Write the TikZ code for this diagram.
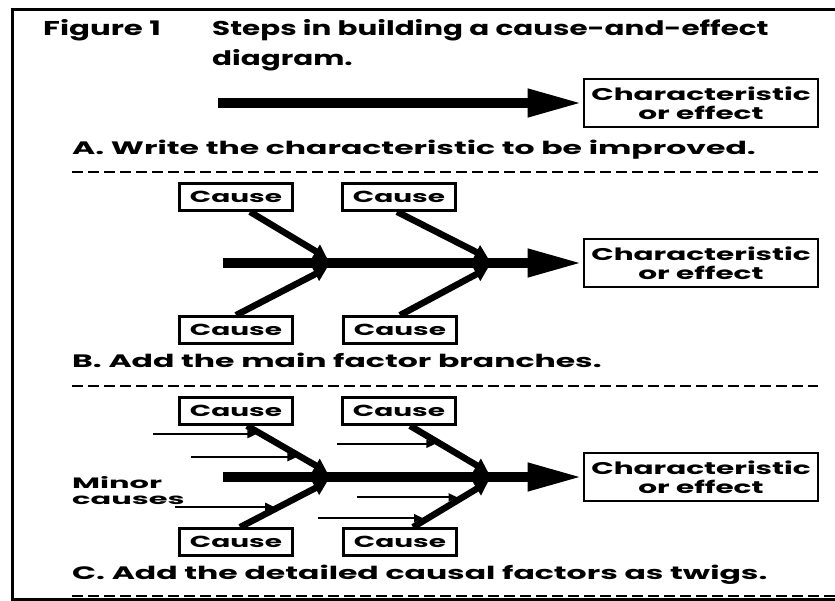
\documentclass[tikz,border=0pt]{standalone}
\usepackage{fontspec}
\usepackage{graphicx}
\setmainfont{Poppins}[FakeStretch=1.4]
\usetikzlibrary{arrows.meta,calc}

% horizontally widened lettering
\newcommand{\widetext}[2]{\scalebox{#1}[1]{#2}}

\tikzset{
  frameline/.style={line width=3pt},
  divider/.style={line width=2.6pt, dash pattern=on 11pt off 5pt},
  causebox/.style={draw, line width=2.6pt, minimum width=113pt, minimum height=27pt,
    inner sep=0pt, font=\bfseries\fontsize{16}{16}\selectfont},
  effectbox/.style={draw, line width=2.6pt, minimum width=234pt, minimum height=48pt,
    inner sep=0pt, align=center, font=\bfseries\fontsize{17}{19}\selectfont},
  spine/.style={line width=10pt, -{Triangle[length=55pt,width=26pt]}},
  branch/.style={line width=6.5pt, -{Triangle[length=13pt,width=15pt]}},
  twig/.style={line width=1.8pt, shorten >=5pt, -{Triangle[length=9pt,width=8pt]}},
  steplabel/.style={anchor=west, inner sep=0pt, font=\bfseries\fontsize{18}{18}\selectfont},
  titletext/.style={anchor=west, inner sep=0pt, font=\bfseries\fontsize{20}{20}\selectfont},
  minortext/.style={anchor=west, inner sep=0pt, align=left, font=\bfseries\fontsize{15}{16}\selectfont}
}

\begin{document}
\begin{tikzpicture}[x=1pt,y=-1pt]
  \useasboundingbox (0,0) rectangle (835,601);

  % outer frame
  \draw[frameline] (835,10) -- (12,10) -- (12,599) -- (835,599);
  \draw[divider] (72,596) -- (835,596);

  % heading
  \node[titletext] (fig) at (43,30) {\widetext{1.1}{Figure 1}};
  \node[titletext] (head1) at (212,30) {\widetext{1.05}{Steps in building a cause-and-effect}};
  \node[titletext] (head2) at (212,60) {\widetext{1.05}{diagram.}};

  % ---------- step A ----------
  \node[effectbox] (effA) at (701,103) {\widetext{1.24}{Characteristic}\\\widetext{1.24}{or effect}};
  \coordinate (tailA) at (218,103);
  \draw[spine] (tailA) -- (effA.west);
  \node[steplabel] (labA) at (72,150) {\widetext{1.25}{A. Write the characteristic to be improved.}};
  \coordinate (dA1) at (72,172);
  \coordinate (dA2) at (818,172);
  \draw[divider] (dA1) -- (dA2);

  % ---------- step B ----------
  \node[effectbox] (effB) at (701,263) {\widetext{1.24}{Characteristic}\\\widetext{1.24}{or effect}};
  \coordinate (tailB) at (223,263);
  \draw[spine] (tailB) -- (effB.west);
  \node[causebox] (cBt1) at (236,197) {\widetext{1.25}{Cause}};
  \node[causebox] (cBt2) at (399,197) {\widetext{1.25}{Cause}};
  \node[causebox] (cBb1) at (236,330) {\widetext{1.25}{Cause}};
  \node[causebox] (cBb2) at (400,330) {\widetext{1.25}{Cause}};
  \coordinate (jB1t) at (327,258);
  \coordinate (jB2t) at (488,258);
  \coordinate (jB1b) at (327,268);
  \coordinate (jB2b) at (488,268);
  \draw[branch] ([xshift=14pt]cBt1.south) -- (jB1t);
  \draw[branch] ([xshift=-2pt]cBt2.south) -- (jB2t);
  \draw[branch] (cBb1.north) -- (jB1b);
  \draw[branch] (cBb2.north) -- (jB2b);
  \node[steplabel] (labB) at (72,360) {\widetext{1.25}{B. Add the main factor branches.}};
  \coordinate (dB1) at (72,386);
  \coordinate (dB2) at (818,386);
  \draw[divider] (dB1) -- (dB2);

  % ---------- step C ----------
  \node[effectbox] (effC) at (701,477) {\widetext{1.24}{Characteristic}\\\widetext{1.24}{or effect}};
  \coordinate (tailC) at (223,477);
  \draw[spine] (tailC) -- (effC.west);
  \node[causebox] (cCt1) at (236,411) {\widetext{1.25}{Cause}};
  \node[causebox] (cCt2) at (399,411) {\widetext{1.25}{Cause}};
  \node[causebox] (cCb1) at (236,542) {\widetext{1.25}{Cause}};
  \node[causebox] (cCb2) at (400,542) {\widetext{1.25}{Cause}};
  \coordinate (sC1t) at ([xshift=11pt]cCt1.south);
  \coordinate (sC2t) at ([xshift=11pt]cCt2.south);
  \coordinate (sC1b) at ([xshift=4pt]cCb1.north);
  \coordinate (sC2b) at ([xshift=13pt]cCb2.north);
  \coordinate (jC1t) at (327,472);
  \coordinate (jC2t) at (488,472);
  \coordinate (jC1b) at (327,482);
  \coordinate (jC2b) at (488,482);
  \draw[branch] (sC1t) -- (jC1t);
  \draw[branch] (sC2t) -- (jC2t);
  \draw[branch] (sC1b) -- (jC1b);
  \draw[branch] (sC2b) -- (jC2b);

  % twigs: minor causes feeding each main branch
  \coordinate (tw1) at ($(sC1t)!0.18!(jC1t)$);
  \coordinate (tw2) at ($(sC1t)!0.68!(jC1t)$);
  \coordinate (tw3) at ($(sC2t)!0.39!(jC2t)$);
  \coordinate (tw4) at ($(sC1b)!0.45!(jC1b)$);
  \coordinate (tw5) at ($(sC2b)!0.66!(jC2b)$);
  \coordinate (tw6) at ($(sC2b)!0.20!(jC2b)$);
  \draw[twig] ($(tw1)+(-108,0)$) -- (tw1);
  \draw[twig] ($(tw2)+(-110,0)$) -- (tw2);
  \draw[twig] ($(tw3)+(-103,0)$) -- (tw3);
  \draw[twig] ($(tw4)+(-104,0)$) -- (tw4);
  \draw[twig] ($(tw5)+(-106,0)$) -- (tw5);
  \draw[twig] ($(tw6)+(-110,0)$) -- (tw6);

  \node[minortext] (minor) at (72,491) {\widetext{1.45}{Minor}\\\widetext{1.45}{causes}};
  \node[steplabel] (labC) at (72,575) {\widetext{1.25}{C. Add the detailed causal factors as twigs.}};
\end{tikzpicture}
\end{document}
